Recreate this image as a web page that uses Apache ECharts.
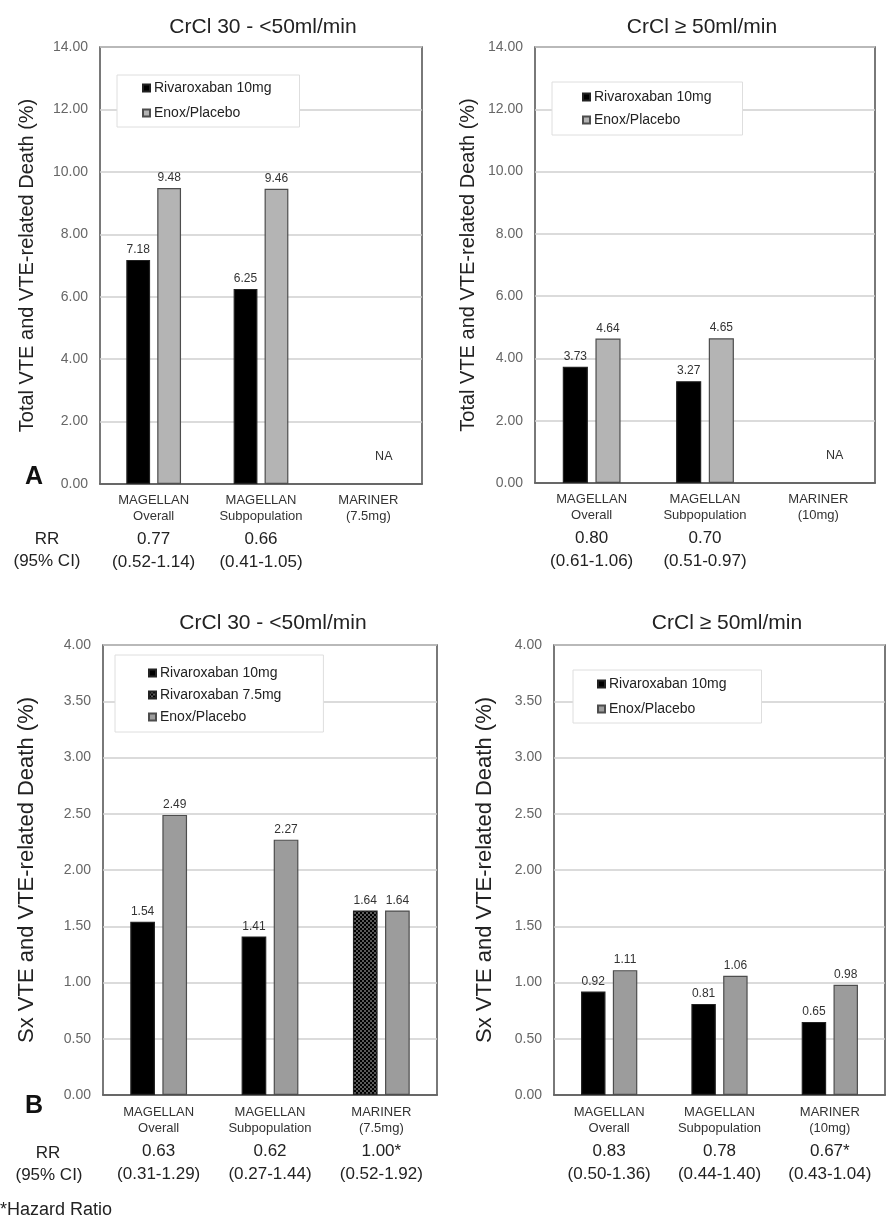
<!DOCTYPE html>
<html>
<head>
<meta charset="utf-8">
<script src="https://cdn.jsdelivr.net/npm/echarts@6/dist/echarts.min.js"></script>
<style>
html,body{margin:0;padding:0;background:#fff;}
#chart{width:887px;height:1218px;}
</style>
</head>
<body>
<div id="chart"></div>
<script>
// ---------- DATA ----------
const catsLeft = ['MAGELLAN\nOverall', 'MAGELLAN\nSubpopulation', 'MARINER\n(7.5mg)'];
const catsRight = ['MAGELLAN\nOverall', 'MAGELLAN\nSubpopulation', 'MARINER\n(10mg)'];

// Panel A: Total VTE and VTE-related death (%)
const aLeftRiva10 = [7.18, 6.25, '-'];
const aLeftEnox = [9.48, 9.46, '-'];
const aRightRiva10 = [3.73, 3.27, '-'];
const aRightEnox = [4.64, 4.65, '-'];

// Panel B: Sx VTE and VTE-related death (%)
const bLeftRiva10 = [1.54, 1.41, '-'];
const bLeftRiva75 = ['-', '-', 1.64];
const bLeftEnox = [2.49, 2.27, 1.64];
const bRightRiva10 = [0.92, 0.81, 0.65];
const bRightEnox = [1.11, 1.06, 0.98];

// Relative risks (95% CI)
const rrALeft = ['0.77', '0.66', ''];
const ciALeft = ['(0.52-1.14)', '(0.41-1.05)', ''];
const rrARight = ['0.80', '0.70', ''];
const ciARight = ['(0.61-1.06)', '(0.51-0.97)', ''];
const rrBLeft = ['0.63', '0.62', '1.00*'];
const ciBLeft = ['(0.31-1.29)', '(0.27-1.44)', '(0.52-1.92)'];
const rrBRight = ['0.83', '0.78', '0.67*'];
const ciBRight = ['(0.50-1.36)', '(0.44-1.40)', '(0.43-1.04)'];

const titleLeft = 'CrCl 30 - <50ml/min';
const titleRight = 'CrCl \u2265 50ml/min';
const yNameA = 'Total VTE and VTE-related Death (%)';
const yNameB = 'Sx VTE and VTE-related Death (%)';

// ---------- STYLE ----------
const FONT = '"Liberation Sans", Arial, sans-serif';
const chart = echarts.init(document.getElementById('chart'), null, {renderer: 'canvas'});

const pat = document.createElement('canvas');
pat.width = 4; pat.height = 4;
const pc = pat.getContext('2d');
pc.fillStyle = '#5a5a5a'; pc.fillRect(0, 0, 4, 4);
pc.fillStyle = '#000'; pc.fillRect(0, 0, 2, 2); pc.fillRect(2, 2, 2, 2);
const checker = {image: pat, repeat: 'repeat'};

const grids = [
  {left: 100, top: 47, width: 322, height: 437},
  {left: 535, top: 47, width: 340, height: 436},
  {left: 103, top: 645, width: 334, height: 450},
  {left: 554, top: 645, width: 331, height: 450}
].map(g => Object.assign(g, {show: true, borderColor: '#4d4d4d', borderWidth: 1.5, backgroundColor: '#fff'}));

function xAxis(idx, cats, rr, ci, margin) {
  return {
    type: 'category', gridIndex: idx, data: cats,
    axisTick: {show: false},
    axisLine: {show: true, lineStyle: {color: '#4d4d4d', width: 1.5}},
    axisLabel: {
      interval: 0, margin: margin,
      formatter: (v, i) => {
        const p = v.split('\n');
        return '{c|' + p[0] + '}\n{c|' + p[1] + '}\n{r1|' + (rr[i] || ' ') + '}\n{r2|' + (ci[i] || ' ') + '}';
      },
      rich: {
        c: {fontSize: 13, lineHeight: 16, color: '#333', fontFamily: FONT},
        r1: {fontSize: 17, lineHeight: 30, color: '#222', fontFamily: FONT},
        r2: {fontSize: 17, lineHeight: 16, color: '#222', fontFamily: FONT}
      }
    }
  };
}
function yAxis(idx, max, interval, name, gap, nameSize) {
  return {
    type: 'value', gridIndex: idx, min: 0, max: max, interval: interval,
    name: name, nameLocation: 'middle', nameGap: gap,
    nameTextStyle: {fontSize: nameSize, color: '#222', fontFamily: FONT},
    axisLine: {show: false}, axisTick: {show: false},
    axisLabel: {margin: 12, fontSize: 14, color: '#666', fontFamily: FONT, formatter: v => v.toFixed(2)},
    splitLine: {show: true, lineStyle: {color: '#cfcfcf', width: 1.5}}
  };
}
const barLabel = {show: true, position: 'top', distance: 4, fontSize: 12, color: '#333', fontFamily: FONT,
  formatter: p => (typeof p.value === 'number' ? p.value.toFixed(2) : '')};

function bar(name, data, idx, color, border, extra) {
  return Object.assign({
    type: 'bar', name: name, data: data, xAxisIndex: idx, yAxisIndex: idx,
    barGap: '30%', barCategoryGap: '49%',
    itemStyle: {color: color, borderColor: border, borderWidth: 1.2},
    label: barLabel, silent: true, animation: false
  }, extra || {});
}
const naMark = {
  symbol: 'rect', symbolSize: 1, itemStyle: {color: 'rgba(0,0,0,0)'},
  label: {show: true, position: 'inside', formatter: 'NA', fontSize: 12.5, color: '#333', fontFamily: FONT},
  data: [{coord: [2, 0.87]}]
};

const GREY_A = '#b4b4b4', GREY_B = '#9c9c9c';

function legend(left, top, padding, gap, names) {
  return {
    orient: 'vertical', left: left, top: top, padding: padding, itemGap: gap,
    itemWidth: 7, itemHeight: 7, icon: 'rect',
    backgroundColor: '#fff', borderColor: '#dedede', borderWidth: 1, borderRadius: 0,
    textStyle: {fontSize: 14, color: '#222', fontFamily: FONT, padding: [0, 0, 0, -1]},
    data: names, selectedMode: false
  };
}

function txt(text, x, y, size, opts) {
  return {type: 'text', x: x, y: y, silent: true,
    style: Object.assign({text: text, fontSize: size, fontFamily: FONT, fill: '#222', align: 'center', verticalAlign: 'middle'}, opts || {})};
}

const option = {
  backgroundColor: '#fff',
  animation: false,
  textStyle: {fontFamily: FONT},
  grid: grids,
  xAxis: [
    xAxis(0, catsLeft, rrALeft, ciALeft, 8),
    xAxis(1, catsRight, rrARight, ciARight, 8),
    xAxis(2, catsLeft, rrBLeft, ciBLeft, 9),
    xAxis(3, catsRight, rrBRight, ciBRight, 9)
  ],
  yAxis: [
    yAxis(0, 14, 2, yNameA, 63, 20),
    yAxis(1, 14, 2, yNameA, 57, 20),
    yAxis(2, 4, 0.5, yNameB, 65, 22),
    yAxis(3, 4, 0.5, yNameB, 58, 22)
  ],
  legend: [
    legend(117, 75, [6, 28, 7, 25], 11, ['Rivaroxaban 10mg', 'Enox/Placebo']),
    legend(552, 82, [8, 31, 8, 30], 9, ['Rivaroxaban 10mg', 'Enox/Placebo']),
    legend(115, 655, [11, 42, 8, 33], 8, ['Rivaroxaban 10mg', 'Rivaroxaban 7.5mg', 'Enox/Placebo ']),
    legend(573, 670, [7, 35, 7, 24], 11, ['Rivaroxaban 10mg', 'Enox/Placebo '])
  ],
  series: [
    bar('Rivaroxaban 10mg', aLeftRiva10, 0, '#000', '#222'),
    bar('Enox/Placebo', aLeftEnox, 0, GREY_A, '#4d4d4d', {markPoint: naMark}),
    bar('Rivaroxaban 10mg', aRightRiva10, 1, '#000', '#222'),
    bar('Enox/Placebo', aRightEnox, 1, GREY_A, '#4d4d4d', {markPoint: naMark}),
    bar('Rivaroxaban 10mg', bLeftRiva10, 2, '#000', '#222', {stack: 'riva'}),
    bar('Rivaroxaban 7.5mg', bLeftRiva75, 2, checker, '#222', {stack: 'riva'}),
    bar('Enox/Placebo ', bLeftEnox, 2, GREY_B, '#4d4d4d'),
    bar('Rivaroxaban 10mg', bRightRiva10, 3, '#000', '#222'),
    bar('Enox/Placebo ', bRightEnox, 3, GREY_B, '#4d4d4d')
  ],
  graphic: [
    txt(titleLeft, 263, 27, 21),
    txt(titleRight, 702, 27, 21),
    txt(titleLeft, 273, 623, 21),
    txt(titleRight, 727, 623, 21),
    txt('A', 34, 477, 25, {fontWeight: 'bold', fill: '#111'}),
    txt('B', 34, 1106, 25, {fontWeight: 'bold', fill: '#111'}),
    txt('RR', 47, 539, 17),
    txt('(95% CI)', 47, 561, 17),
    txt('RR', 48, 1153, 17),
    txt('(95% CI)', 49, 1175, 17),
    txt('*Hazard Ratio', 0, 1210, 18, {align: 'left'})
  ]
};
chart.setOption(option);
</script>
</body>
</html>
